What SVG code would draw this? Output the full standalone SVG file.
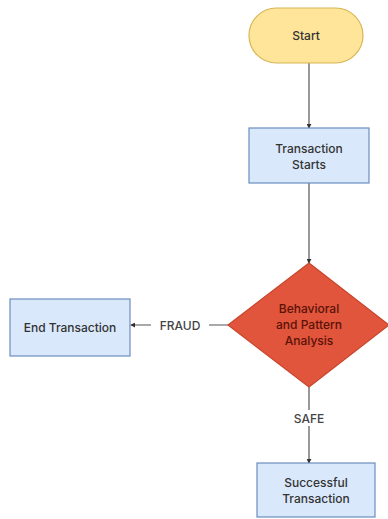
<svg xmlns="http://www.w3.org/2000/svg" width="388" height="519" viewBox="0 0 388 519">
<style>
.box{fill:#DAE8FC;stroke:#6C8EBF;stroke-width:1.2}
.t{font-family:"Inter","Liberation Sans",sans-serif;font-size:12px;font-weight:500;fill:#333;text-anchor:middle;dominant-baseline:central}
.d{fill:#5a1208}
.edge{stroke:#555;stroke-width:1.2;fill:none;marker-end:url(#ah)}
.lbl{font-family:"Inter","Liberation Sans",sans-serif;font-size:12px;font-weight:500;fill:#444;text-anchor:middle;dominant-baseline:central}
</style>
<defs>
<marker id="ah" viewBox="0 0 6 6" refX="5" refY="3" markerWidth="5" markerHeight="5" orient="auto" markerUnits="userSpaceOnUse">
<path d="M0,0 L6,3 L0,6 z" fill="#333"/>
</marker>
</defs>
<rect width="388" height="519" fill="#fff"/>
<g id="connectors">
<line class="edge" x1="309" y1="63" x2="309" y2="128"/>
<line class="edge" x1="309" y1="183" x2="309" y2="263"/>
<line class="edge" x1="228" y1="325" x2="131" y2="325"/>
<rect x="151" y="317" width="58" height="16" fill="#fff"/>
<text class="lbl" x="180" y="325">FRAUD</text>
<line class="edge" x1="309" y1="387" x2="309" y2="463"/>
<rect x="290" y="410" width="38" height="16" fill="#fff"/>
<text class="lbl" x="309" y="418">SAFE</text>
</g>
<g id="start">
<rect x="249" y="8" width="114" height="55" rx="27.5" fill="#FFE599" stroke="#D6B656" stroke-width="1.2"/>
<text class="t" x="306" y="35.5">Start</text>
</g>
<g id="transaction-starts">
<rect class="box" x="249" y="128" width="120" height="55"/>
<text class="t" x="309" y="148">Transaction</text>
<text class="t" x="309" y="164">Starts</text>
</g>
<g id="analysis">
<polygon points="309,263 389,325 309,387 228,325" fill="#E0553B" stroke="#C9452D" stroke-width="1.2"/>
<text class="t d" x="309" y="308">Behavioral</text>
<text class="t d" x="309" y="324">and Pattern</text>
<text class="t d" x="309" y="340">Analysis</text>
</g>
<g id="end-transaction">
<rect class="box" x="10" y="299" width="120" height="57"/>
<text class="t" x="70" y="327.5">End Transaction</text>
</g>
<g id="successful">
<rect class="box" x="257" y="463" width="118" height="54"/>
<text class="t" x="316" y="482">Successful</text>
<text class="t" x="316" y="498">Transaction</text>
</g>
</svg>
